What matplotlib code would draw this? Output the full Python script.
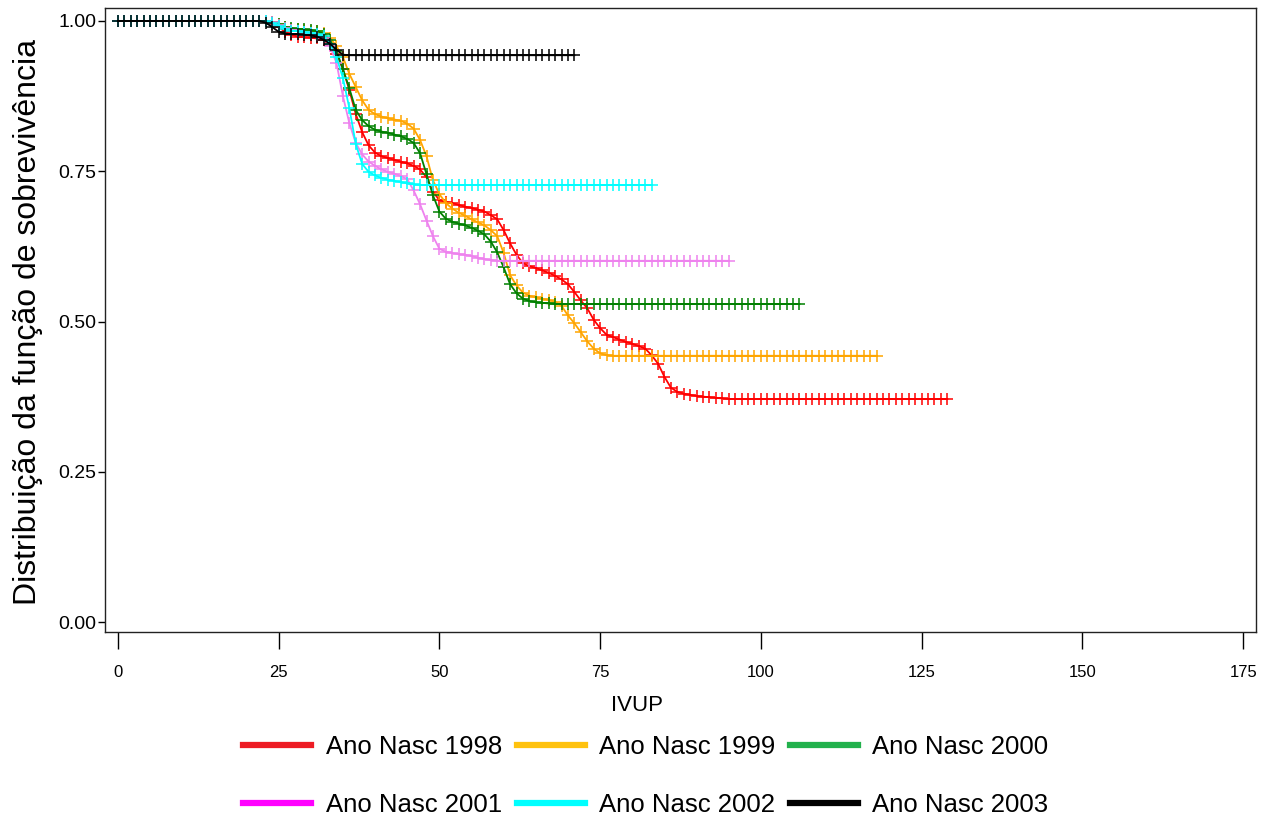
import matplotlib
matplotlib.use("Agg")
import matplotlib.pyplot as plt
from matplotlib.lines import Line2D
import numpy as np

# Estimativas de sobrevivência, um valor por IVUP inteiro (0, 1, 2, ...)
s1998 = [1.0] * 24 + [
    0.995, 0.99, 0.982, 0.977, 0.974, 0.973, 0.972, 0.971, 0.968, 0.96,
    0.945, 0.92, 0.885, 0.845, 0.815, 0.793, 0.781, 0.775, 0.772, 0.769,
    0.766, 0.763, 0.759, 0.753, 0.74, 0.716, 0.702, 0.699, 0.697, 0.694,
    0.691, 0.689, 0.686, 0.683, 0.677, 0.670, 0.652, 0.63, 0.611, 0.597,
    0.592, 0.589, 0.585, 0.581, 0.576, 0.57, 0.562, 0.549, 0.535, 0.522,
    0.503, 0.489, 0.478, 0.474, 0.47, 0.466, 0.463, 0.459, 0.455, 0.444,
    0.43, 0.408, 0.39, 0.383, 0.38, 0.378, 0.376, 0.375, 0.374, 0.373,
    0.372] + [0.371] * 35
s1999 = [1.0] * 24 + [
    0.998, 0.995, 0.99, 0.987, 0.986, 0.985, 0.984, 0.983, 0.98, 0.972,
    0.958, 0.94, 0.912, 0.89, 0.868, 0.852, 0.845, 0.841, 0.838, 0.836,
    0.834, 0.829, 0.821, 0.802, 0.775, 0.735, 0.712, 0.697, 0.688, 0.681,
    0.676, 0.67, 0.665, 0.66, 0.652, 0.642, 0.614, 0.577, 0.56, 0.548,
    0.543, 0.54, 0.538, 0.536, 0.533, 0.526, 0.51, 0.497, 0.482, 0.467,
    0.455, 0.447, 0.444] + [0.443] * 42
s2000 = [1.0] * 24 + [
    0.998, 0.995, 0.99, 0.988, 0.987, 0.986, 0.985, 0.983, 0.979, 0.968,
    0.95, 0.92, 0.888, 0.852, 0.835, 0.825, 0.819, 0.816, 0.814, 0.811,
    0.808, 0.804, 0.797, 0.78, 0.745, 0.71, 0.683, 0.671, 0.666, 0.663,
    0.66, 0.656, 0.651, 0.645, 0.633, 0.615, 0.59, 0.562, 0.547, 0.538,
    0.534, 0.532, 0.531, 0.53] + [0.529] * 39
s2001 = [1.0] * 24 + [
    0.998, 0.993, 0.988, 0.985, 0.984, 0.982, 0.98, 0.977, 0.972, 0.958,
    0.93, 0.875, 0.83, 0.797, 0.778, 0.766, 0.759, 0.753, 0.749, 0.746,
    0.742, 0.737, 0.718, 0.695, 0.668, 0.642, 0.621, 0.616, 0.614, 0.612,
    0.611, 0.609, 0.606, 0.604, 0.602] + [0.601] * 37
s2002 = [1.0] * 24 + [
    0.997, 0.992, 0.987, 0.984, 0.983, 0.982, 0.98, 0.978, 0.975, 0.962,
    0.94, 0.905, 0.855, 0.795, 0.762, 0.749, 0.743, 0.739, 0.736, 0.734,
    0.732, 0.73, 0.728] + [0.727] * 37
s2003 = [1.0] * 23 + [
    0.997, 0.99, 0.982, 0.979, 0.978, 0.978, 0.977, 0.976, 0.974, 0.969,
    0.962, 0.952, 0.944] + [0.943] * 36

series = [s1998, s1999, s2000, s2001, s2002, s2003]
labels = ['Ano Nasc 1998', 'Ano Nasc 1999', 'Ano Nasc 2000',
          'Ano Nasc 2001', 'Ano Nasc 2002', 'Ano Nasc 2003']
cores_curva = ['#ff0000', '#ffa500', '#008000', '#ee82ee', '#00ffff', '#000000']
cores_legenda = ['#ed1c24', '#ffc20e', '#22b14c', '#ff00ff', '#00ffff', '#000000']

xticks = [0, 25, 50, 75, 100, 125, 150, 175]
yticks = [0.00, 0.25, 0.50, 0.75, 1.00]

fonte = ['Liberation Sans', 'DejaVu Sans']
fonte_estreita = ['Liberation Sans Narrow', 'Liberation Sans', 'DejaVu Sans']

fig = plt.figure(figsize=(12.69, 8.22), dpi=100)
ax = fig.add_axes([105 / 1269, 1 - 632 / 822, 1151 / 1269, 624 / 822])

for s, c in zip(series, cores_curva):
    t = np.arange(len(s))
    ax.plot(t, s, color=c, linewidth=1.3, marker='+', markersize=9,
            markeredgewidth=1.1)

ax.set_xlim(-2, 177)
ax.set_ylim(-0.0166, 1.0216)
ax.set_xticks(xticks)
ax.set_yticks(yticks)
ax.set_yticklabels([f'{v:.2f}' for v in yticks])

for lab in ax.get_xticklabels():
    lab.set_family(fonte_estreita)
    lab.set_fontsize(12)
for lab in ax.get_yticklabels():
    lab.set_family(fonte)
    lab.set_fontsize(14)
ax.tick_params(axis='x', direction='out', length=12, width=1, pad=12)
ax.tick_params(axis='y', direction='out', length=5, width=1, pad=1)
for sp in ax.spines.values():
    sp.set_linewidth(1.0)
    sp.set_color('#222222')

fig.text(28 / 1269, 1 - 322 / 822, 'Distribuição da função de sobrevivência',
         fontsize=23, rotation=90, ha='center', va='center', family=fonte)
fig.text(637 / 1269, 1 - 705 / 822, 'IVUP', fontsize=16, ha='center', va='center',
         family=fonte)

handles = [Line2D([0], [0], color=c, linewidth=4.5) for c in cores_legenda]
ordem = [0, 3, 1, 4, 2, 5]
fig.legend([handles[i] for i in ordem], [labels[i] for i in ordem],
           loc='center', bbox_to_anchor=(0.509, 1 - 776 / 822), ncol=3,
           frameon=False, handlelength=2.65, handletextpad=0.55,
           columnspacing=0.58, labelspacing=1.3, borderpad=0,
           prop={'family': fonte, 'size': 18.5})

fig.savefig('out.png', dpi=100)
